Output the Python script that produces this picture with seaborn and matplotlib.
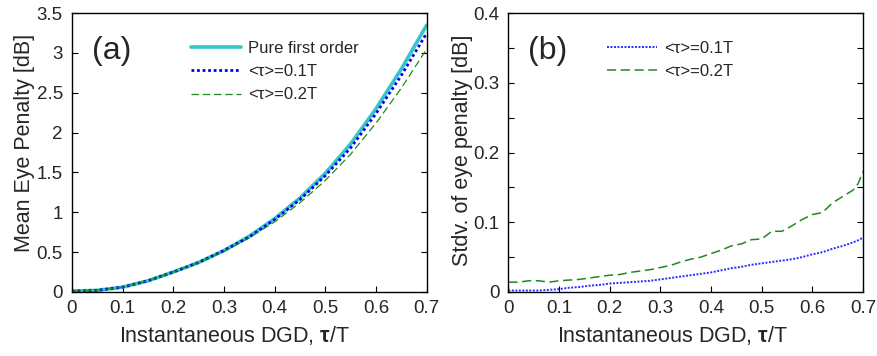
import numpy as np
import pandas as pd
import matplotlib
matplotlib.use("Agg")
import matplotlib.pyplot as plt
import seaborn as sns

# ---- data (a) ----
tau_a = [0.0, 0.05, 0.1, 0.15, 0.2, 0.25, 0.3, 0.35, 0.4, 0.45, 0.5, 0.55, 0.6, 0.65, 0.7]
pure_first = [0.01, 0.02, 0.06, 0.14, 0.25, 0.37, 0.52, 0.70, 0.92, 1.18, 1.49, 1.86, 2.30, 2.80, 3.35]
mean_01 = [0.01, 0.02, 0.06, 0.14, 0.25, 0.37, 0.52, 0.69, 0.91, 1.16, 1.46, 1.81, 2.24, 2.72, 3.25]
mean_02 = [0.01, 0.02, 0.06, 0.14, 0.25, 0.37, 0.51, 0.68, 0.88, 1.12, 1.40, 1.73, 2.12, 2.56, 3.05]

# ---- data (b) ----
tau_b = [0.00, 0.02, 0.04, 0.06, 0.08, 0.10, 0.12, 0.14, 0.16, 0.18, 0.20, 0.22,
         0.24, 0.26, 0.28, 0.30, 0.32, 0.34, 0.36, 0.38, 0.40, 0.42, 0.44, 0.46,
         0.48, 0.50, 0.52, 0.54, 0.56, 0.58, 0.60, 0.62, 0.64, 0.66, 0.68, 0.69, 0.70]
std_01 = [0.002, 0.002, 0.002, 0.002, 0.003, 0.004, 0.006, 0.007, 0.009, 0.010, 0.012, 0.013,
          0.014, 0.015, 0.016, 0.018, 0.020, 0.022, 0.024, 0.026, 0.028, 0.031, 0.034, 0.036,
          0.039, 0.041, 0.043, 0.045, 0.047, 0.050, 0.054, 0.057, 0.062, 0.066, 0.071, 0.074, 0.078]
std_02 = [0.014, 0.014, 0.016, 0.016, 0.014, 0.016, 0.017, 0.018, 0.020, 0.022, 0.024, 0.025,
          0.028, 0.030, 0.032, 0.035, 0.038, 0.043, 0.047, 0.050, 0.055, 0.060, 0.066, 0.069,
          0.075, 0.076, 0.087, 0.087, 0.095, 0.104, 0.111, 0.114, 0.128, 0.137, 0.146, 0.155, 0.173]

x_ticklabels = ["0", "0.1", "0.2", "0.3", "0.4", "0.5", "0.6", "0.7"]
ya_ticklabels = ["0", "0.5", "1", "1.5", "2", "2.5", "3", "3.5"]
yb_ticklabels = ["0", "", "0.1", "", "0.2", "", "0.3", "", "0.4"]

sns.set_theme(style="white")
plt.rcParams['font.family'] = ['Liberation Sans', 'DejaVu Sans']
plt.rcParams['mathtext.fontset'] = 'custom'
plt.rcParams['mathtext.rm'] = 'Liberation Sans'
plt.rcParams['mathtext.bf'] = 'Liberation Sans:bold'
plt.rcParams['mathtext.it'] = 'Liberation Sans:italic'

fig = plt.figure(figsize=(8.78, 3.56), dpi=100)
ax1 = fig.add_axes([0.082, 0.180, 0.404, 0.783])
ax2 = fig.add_axes([0.579, 0.180, 0.404, 0.783])

label_01 = "<τ>=0.1T"
label_02 = "<τ>=0.2T"

dfa = pd.DataFrame({"x": tau_a, "pure": pure_first, "m1": mean_01, "m2": mean_02})
sns.lineplot(data=dfa, x="x", y="pure", ax=ax1, color="#35c4c8", lw=2.6, label="Pure first order")
sns.lineplot(data=dfa, x="x", y="m1", ax=ax1, color="#0000ee", lw=2.0, linestyle=(0, (1, 1)), label=label_01)
sns.lineplot(data=dfa, x="x", y="m2", ax=ax1, color="#1e8a1e", lw=0.9, linestyle=(0, (6, 3)), label=label_02)

dfb = pd.DataFrame({"x": tau_b, "s1": std_01, "s2": std_02})
sns.lineplot(data=dfb, x="x", y="s1", ax=ax2, color="#2a2aff", lw=1.4, linestyle=(0, (1, 0.8)), label=label_01)
sns.lineplot(data=dfb, x="x", y="s2", ax=ax2, color="#1e8a1e", lw=1.1, linestyle=(0, (6, 3)), label=label_02)

xlab = "Instantaneous DGD, $\\mathbf{τ}$/T"
for ax in (ax1, ax2):
    ax.set_xlim(0, 0.7)
    ax.set_xticks(np.arange(0, 0.71, 0.1))
    ax.set_xticklabels(x_ticklabels)
    ax.set_xlabel(xlab, fontsize=15.5)
    ax.tick_params(direction="in", length=4, width=0.8, labelsize=13.5, right=True, top=False,
                   left=True, bottom=True, color="black")
    ax.tick_params(axis="x", pad=5.5)
    ax.tick_params(axis="y", pad=6.5)
    for s in ax.spines.values():
        s.set_color("black")
        s.set_linewidth(1.0)

ax1.set_ylim(0, 3.5)
ax1.set_yticks(np.arange(0, 3.51, 0.5))
ax1.set_yticklabels(ya_ticklabels)
ax1.set_ylabel("Mean Eye Penalty [dB]", fontsize=15.5)
ax1.yaxis.set_label_coords(-0.105, 0.534)
ax1.xaxis.set_label_coords(0.458, -0.115)
ax1.text(0.056, 0.835, "(a)", transform=ax1.transAxes, fontsize=23)
ax1.legend(loc="upper left", bbox_to_anchor=(0.318, 0.925), frameon=False, fontsize=12,
           handlelength=3.0, handletextpad=0.4, labelspacing=0.5, borderaxespad=0)

ax2.set_ylim(0, 0.4)
ax2.set_yticks(np.arange(0, 0.401, 0.05))
ax2.set_yticklabels(yb_ticklabels)
ax2.set_ylabel("Stdv. of eye penalty [dB]", fontsize=15.5)
ax2.yaxis.set_label_coords(-0.100, 0.509)
ax2.xaxis.set_label_coords(0.462, -0.115)
ax2.text(0.056, 0.835, "(b)", transform=ax2.transAxes, fontsize=23)
ax2.legend(loc="upper left", bbox_to_anchor=(0.26, 0.925), frameon=False, fontsize=12,
           handlelength=3.0, handletextpad=0.4, labelspacing=0.5, borderaxespad=0)

fig.savefig("out.png", dpi=100)
